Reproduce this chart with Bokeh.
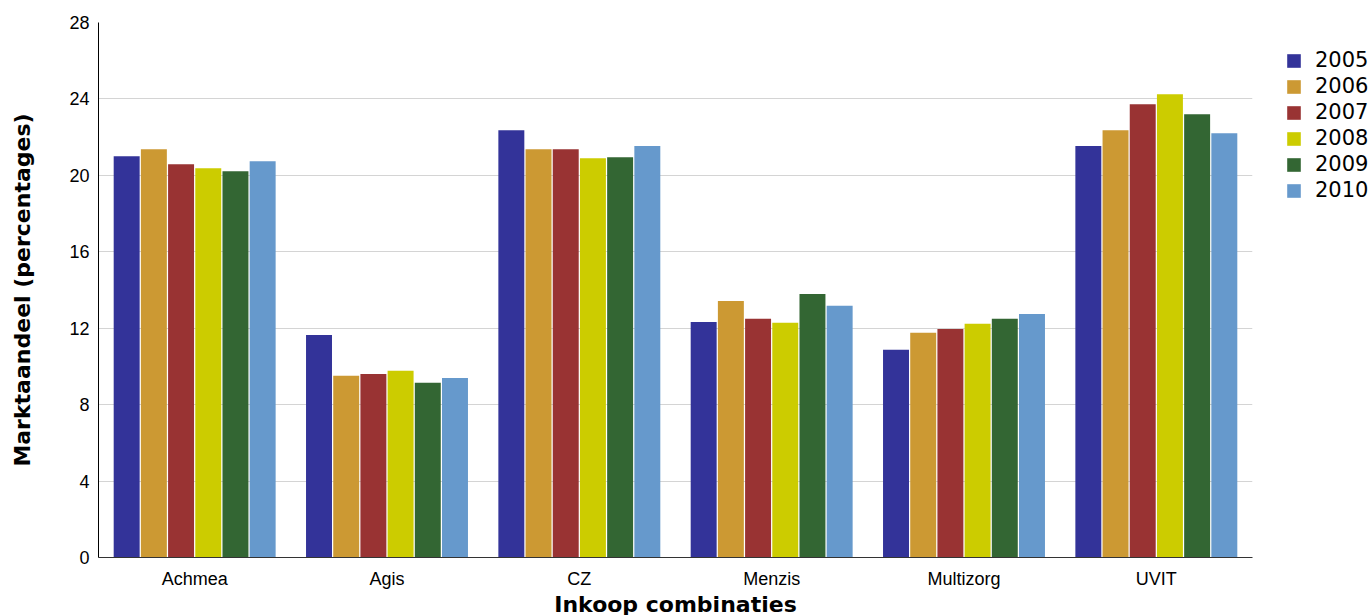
from bokeh.plotting import figure
from bokeh.models import FactorRange, Legend, LegendItem, ColumnDataSource
from bokeh.transform import dodge
from bokeh.embed import file_html
from bokeh.resources import INLINE

categories = ["Achmea", "Agis", "CZ", "Menzis", "Multizorg", "UVIT"]
years = ["2005", "2006", "2007", "2008", "2009", "2010"]
v2005 = [21.0, 11.65, 22.36, 12.33, 10.87, 21.53]
v2006 = [21.37, 9.51, 21.37, 13.43, 11.76, 22.36]
v2007 = [20.58, 9.61, 21.37, 12.49, 11.96, 23.72]
v2008 = [20.37, 9.77, 20.9, 12.28, 12.23, 24.24]
v2009 = [20.22, 9.14, 20.95, 13.79, 12.49, 23.2]
v2010 = [20.74, 9.40, 21.53, 13.17, 12.75, 22.2]
colors = ["#333399", "#CC9933", "#993333", "#CCCC00", "#336633", "#6699CC"]
y_ticks = [0, 4, 8, 12, 16, 20, 24, 28]

series = [v2005, v2006, v2007, v2008, v2009, v2010]
data = {"cat": categories}
for y, s in zip(years, series):
    data["y" + y] = s
src = ColumnDataSource(data)

p = figure(x_range=FactorRange(*categories, range_padding=0), y_range=(0, 28),
           frame_width=1154, frame_height=535, output_backend="svg", toolbar_location=None,
           min_border_left=98, min_border_top=22, min_border_bottom=20, min_border_right=118)

step = 0.1414
items = []
for i, (y, c) in enumerate(zip(years, colors)):
    r = p.vbar(x=dodge("cat", (i - 2.5) * step, range=p.x_range), top="y" + y,
               width=0.135, source=src, fill_color=c, line_color=None)
    items.append(LegendItem(label=y, renderers=[r]))

legend = Legend(items=items, location=(33, 355), margin=0, padding=0,
                glyph_width=17, glyph_height=17, label_standoff=13, spacing=2,
                label_text_font="DejaVu Sans", label_text_font_size="21px",
                label_text_color="black",
                border_line_alpha=0, background_fill_alpha=0)
p.add_layout(legend, "right")

p.outline_line_color = None
p.xgrid.grid_line_color = None
p.ygrid.grid_line_color = "#d4d4d4"
p.ygrid.grid_line_width = 1
p.yaxis.ticker = y_ticks
p.yaxis.axis_line_color = "black"
p.xaxis.axis_line_color = "#333333"
for ax in (p.xaxis[0], p.yaxis[0]):
    ax.major_tick_line_color = None
    ax.minor_tick_line_color = None
    ax.major_label_text_font = "Liberation Sans"
    ax.major_label_text_font_size = "18px"
    ax.major_label_text_color = "black"
    ax.axis_label_text_font = "DejaVu Sans"
    ax.axis_label_text_font_style = "bold"
    ax.axis_label_text_font_size = "22px"
    ax.axis_label_text_color = "black"
p.xaxis.axis_label = "Inkoop combinaties"
p.yaxis.axis_label = "Marktaandeel (percentages)"
p.xaxis.major_label_standoff = 5
p.xaxis.axis_label_standoff = 0
p.yaxis.major_label_standoff = 3
p.yaxis.axis_label_standoff = 31

open("out.html", "w").write(file_html(p, INLINE))
